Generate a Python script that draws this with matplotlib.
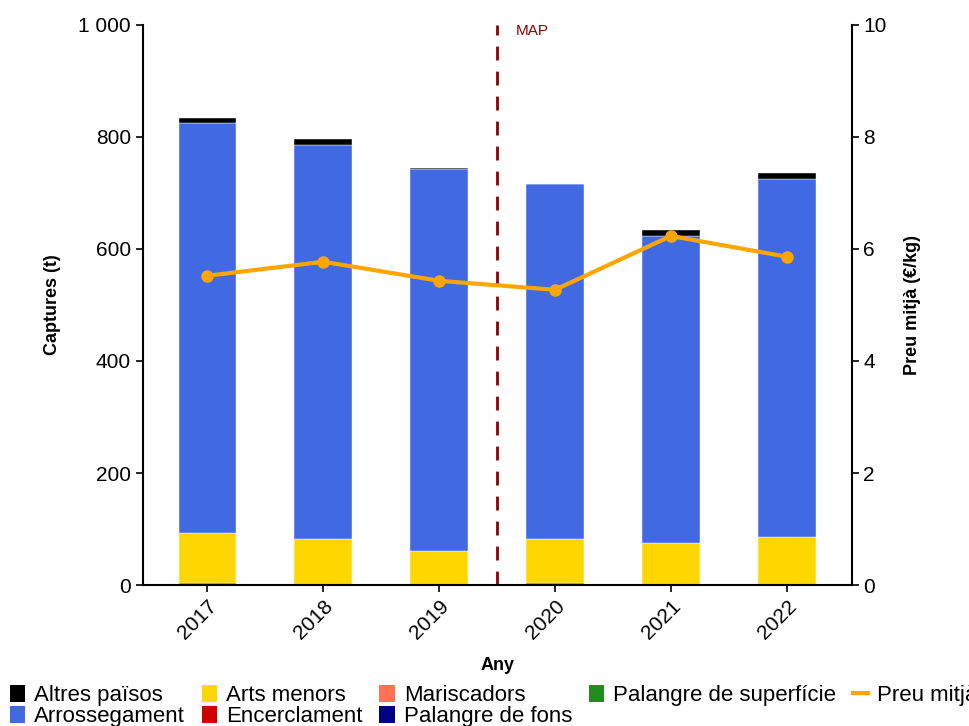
import matplotlib
matplotlib.use('Agg')
import matplotlib.pyplot as plt
from matplotlib.patches import Patch
from matplotlib.lines import Line2D
from matplotlib.ticker import FuncFormatter
import numpy as np

plt.rcParams['font.family'] = ['Liberation Sans', 'DejaVu Sans']

anys = ['2017', '2018', '2019', '2020', '2021', '2022']

# captures per modalitat (t), ordre d'apilament de baix a dalt
palangre_sup = [0, 0, 0, 0, 0, 0]
palangre_fons = [3, 1, 1, 3, 0, 0]
mariscadors = [0, 0, 0, 0, 0, 0]
encerclament = [0, 0, 0, 0, 0, 0]
arts_menors = [90, 81, 60, 79, 75, 86]
arrossegament = [732, 704, 681, 634, 548, 639]
altres = [9, 10, 1.5, 0, 11, 11]

preu = [5.52, 5.77, 5.43, 5.27, 6.23, 5.86]

capes = [
    ('Palangre de superfície', palangre_sup, '#228B22'),
    ('Palangre de fons', palangre_fons, '#000080'),
    ('Mariscadors', mariscadors, '#FF7256'),
    ('Encerclament', encerclament, '#CD0000'),
    ('Arts menors', arts_menors, '#FFD700'),
    ('Arrossegament', arrossegament, '#4169E1'),
    ('Altres països', altres, '#000000'),
]

fig = plt.figure(figsize=(9.7, 7.26), dpi=100)
ax = fig.add_axes([0.147, 0.194, 0.731, 0.772])

x = np.arange(len(anys))
base = np.zeros(len(anys))
for nom, vals, col in capes:
    ax.bar(x, vals, bottom=base, width=0.5, color=col, edgecolor='white', linewidth=0.3)
    base += np.array(vals)

ax.set_xlim(-0.56, 5.56)
ax.set_ylim(0, 1000)
ax.set_xticks(x)
ax.set_xticklabels(anys, rotation=45, ha='right', rotation_mode='anchor')
ax.yaxis.set_major_formatter(FuncFormatter(lambda v, p: f'{int(v):,}'.replace(',', ' ')))
ax.tick_params(labelsize=15, colors='black', length=5, width=1.2)
ax.spines['top'].set_visible(False)
ax.spines['right'].set_visible(False)
for s in ['left', 'bottom']:
    ax.spines[s].set_linewidth(1.5)
ax.set_xlabel('Any', fontsize=13, fontweight='bold', labelpad=10)
ax.set_ylabel('Captures (t)', fontsize=13, fontweight='bold', labelpad=12)

ax2 = ax.twinx()
ax2.plot(x, preu, color='#FFA500', linewidth=3, marker='o', markersize=8)
ax2.set_ylim(0, 10)
ax2.tick_params(labelsize=15, length=5, width=1.2)
ax2.spines['top'].set_visible(False)
ax2.spines['left'].set_visible(False)
ax2.spines['bottom'].set_visible(False)
ax2.spines['right'].set_linewidth(1.5)
ax2.set_ylabel('Preu mitjà (€/kg)', fontsize=13, fontweight='bold', labelpad=12)

# línia del pla de gestió
ax.axvline(2.5, color='#8B0000', linestyle=(0, (5, 4)), linewidth=2)
ax.text(2.66, 988, 'MAP', color='#8B0000', fontsize=11, va='center')

# llegenda
ordre = ['Altres països', 'Arrossegament', 'Arts menors', 'Encerclament',
         'Mariscadors', 'Palangre de fons', 'Palangre de superfície']
colors = {nom: col for nom, vals, col in capes}
handles = [Patch(facecolor=colors[n], edgecolor='none', label=n) for n in ordre]
handles.append(Line2D([], [], color='#FFA500', linewidth=3, label='Preu mitjà (€/kg)'))
fig.legend(handles=handles, ncol=5, loc='upper left', bbox_to_anchor=(0.01, 0.057),
           frameon=False, fontsize=16, handlelength=0.7, handleheight=0.8,
           handletextpad=0.4, columnspacing=0.75, labelspacing=0.0, borderaxespad=0,
           borderpad=0)

fig.savefig('out.png', dpi=100)
